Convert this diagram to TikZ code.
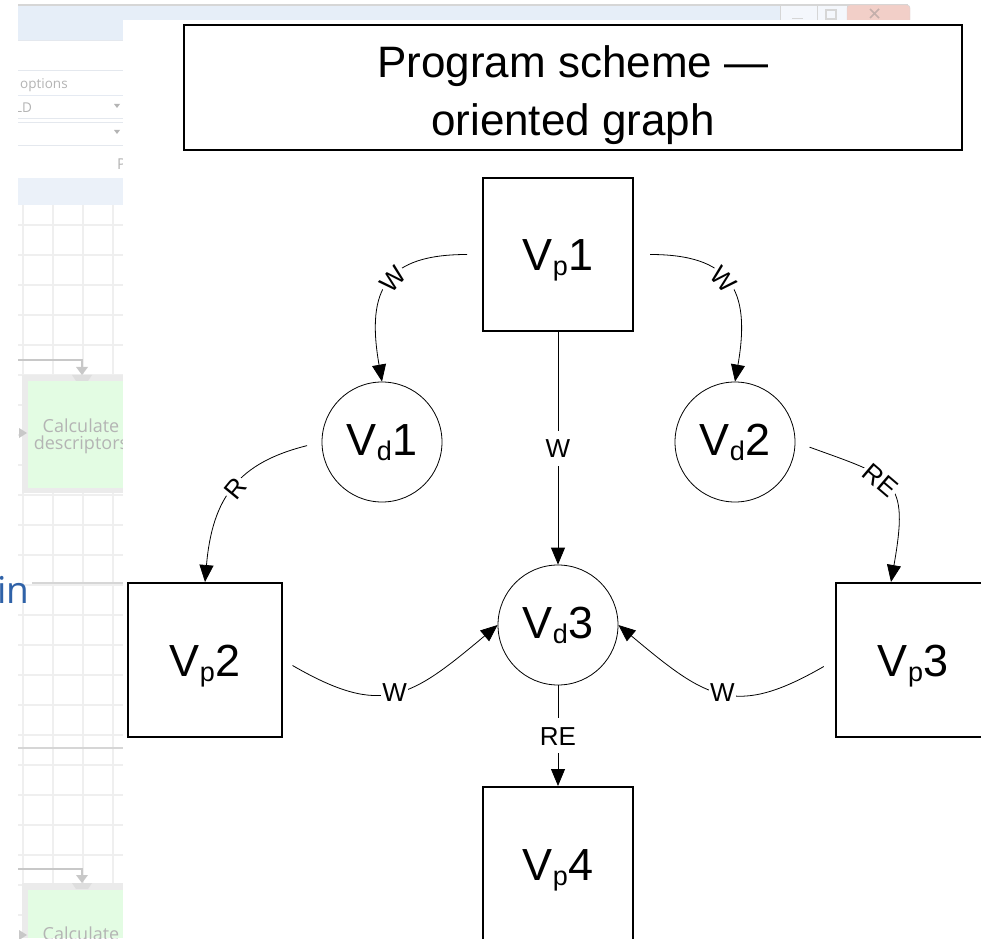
\documentclass[tikz,border=0pt]{standalone}
\usepackage{fontspec}
\setmainfont{Liberation Sans}
\newfontfamily\uifont{Open Sans}
\usetikzlibrary{arrows.meta}

\definecolor{frameline}{HTML}{D6D6D6}
\definecolor{titleband}{HTML}{E6EEF8}
\definecolor{rowline}{HTML}{E4E8EE}
\definecolor{gridline}{HTML}{EFEFEF}
\definecolor{uitext}{HTML}{B4B4B4}
\definecolor{uiarrow}{HTML}{C8C8C8}
\definecolor{blockfill}{HTML}{E3FCE3}
\definecolor{blockrim}{HTML}{EBEBEB}
\definecolor{linkblue}{HTML}{2F62A8}
\definecolor{closered}{HTML}{F2CFC8}

% vertex name with a lowered small index letter
\newcommand\vsub[2]{V\raisebox{-5pt}{\fontsize{27}{27}\selectfont #1}#2}

\begin{document}
\begin{tikzpicture}[x=1pt,y=1pt,
  procbox/.style={draw, line width=2pt, minimum width=150pt, minimum height=153pt,
    inner sep=0pt, font=\fontsize{45}{45}\selectfont, text height=32pt, text depth=0pt},
  datacirc/.style={draw, circle, line width=0.8pt, minimum size=120pt, inner sep=0pt,
    font=\fontsize{45}{45}\selectfont, text height=27pt, text depth=0pt},
  link/.style={line width=0.8pt, -{Triangle[length=17pt,width=14pt]}},
  tag/.style={fill=white, font=\fontsize{26}{26}\selectfont, inner xsep=2pt,
    inner ysep=8pt, text height=19pt, text depth=0pt},
  uitxt/.style={text=uitext, inner sep=0pt},
  uiarr/.style={draw=uiarrow, line width=2pt},
]
\useasboundingbox (0,0) rectangle (981,938);
\clip (0,0) rectangle (981,938);
\fill[white] (0,0) rectangle (981,938);

% ---------- application window behind the diagram ----------
\fill[titleband] (18,898) rectangle (910,932);
\draw[frameline, line width=1.5pt] (18,933) -- (908,933);
% window buttons
\draw[frameline, fill=white!55!titleband] (780,912) rectangle (817,933);
\draw[frameline, fill=white!55!titleband] (817,912) rectangle (847,933);
\draw[frameline, fill=closered, rounded corners=3pt] (847,912) rectangle (910,933);
\draw[frameline] (792,920) -- (803,920);
\draw[frameline, line width=1.2pt] (826,919) rectangle (836,928);
\draw[closered!60!gray, line width=1.5pt] (870,920) -- (879,929) (870,929) -- (879,920);

% option rows
\draw[rowline] (18,898) -- (123,898);
\draw[rowline] (18,868) -- (123,868);
\node[uitxt, anchor=west, font=\uifont\fontsize{13.5}{13.5}\selectfont] (optlabel) at (20,853) {options};
\draw[rowline!60!titleband] (18,843) -- (123,843);
\node[uitxt, anchor=west, font=\uifont\fontsize{13.5}{13.5}\selectfont] (ldlabel) at (15,830) {LD};
\fill[uitext] (114,834) -- (120,834) -- (117,830) -- cycle;
\draw[rowline] (18,820) -- (123,820);
\draw[rowline] (18,816) -- (123,816);
\fill[uitext] (114,808) -- (120,808) -- (117,804) -- cycle;
\draw[rowline] (18,793) -- (123,793);
\node[uitxt, anchor=west, font=\uifont\fontsize{15}{15}\selectfont] (plabel) at (117,774) {P};
\draw[rowline] (18,760) -- (123,760);
\fill[titleband!80!white] (18,733) rectangle (123,760);

% canvas grid
\foreach \gx in {23,53,83,113}
  \draw[gridline, line width=1.2pt] (\gx,0) -- (\gx,733);
\foreach \k in {0,...,23}
  \draw[gridline, line width=1.2pt] (18,{713-30*\k}) -- (123,{713-30*\k});

% first flowchart block
\fill[blockrim] (22,445) rectangle (123,563);
\fill[blockfill] (28,450) rectangle (123,557);
\fill[uiarrow!60!white] (72,563) -- (92,563) -- (88,557) -- (76,557) -- cycle;
\draw[uiarr] (18,578) -- (82,578) -- (82,570);
\fill[uiarrow] (76,571) -- (88,571) -- (82,563) -- cycle;
\fill[uiarrow] (19,510) -- (27,505) -- (19,500) -- cycle;
\node[uitxt, anchor=base, font=\uifont\fontsize{18}{18}\selectfont] (calcA) at (81,506) {Calculate};
\node[uitxt, anchor=base, font=\uifont\fontsize{18}{18}\selectfont] (descA) at (81,489) {descriptors};

% separators
\draw[frameline, line width=2pt] (32,355) -- (123,355);
\draw[frameline, line width=2pt] (18,190) -- (123,190);

% second flowchart block
\fill[blockrim] (22,0) rectangle (123,55);
\fill[blockfill] (28,0) rectangle (123,48);
\fill[uiarrow!60!white] (72,55) -- (92,55) -- (88,49) -- (76,49) -- cycle;
\draw[uiarr] (18,69) -- (82,69) -- (82,62);
\fill[uiarrow] (76,63) -- (88,63) -- (82,55) -- cycle;
\fill[uiarrow] (19,8) -- (27,3) -- (19,-2) -- cycle;
\node[uitxt, anchor=base, font=\uifont\fontsize{18}{18}\selectfont] (calcB) at (81,-2) {Calculate};

% area left of the window
\fill[white] (0,0) rectangle (18,932);
\node[anchor=base west, inner sep=0pt, text=linkblue, font=\uifont\fontsize{37}{37}\selectfont] (inlabel) at (-3,335) {in};

% ---------- diagram sheet ----------
\fill[white] (123,0) rectangle (981,918);

\node[draw, line width=2pt, minimum width=778pt, minimum height=125pt, inner sep=0pt,
  align=center, font=\fontsize{44}{58}\selectfont, text height=97pt, text depth=0pt]
  (title) at (573,850.5) {Program scheme —\\oriented graph};

\node[procbox] (p1) at (558,683.5) {\vsub{p}{1}};
\node[procbox, minimum width=154pt, minimum height=154pt] (p2) at (205,278) {\vsub{p}{2}};
\node[procbox, minimum width=154pt, minimum height=154pt] (p3) at (913,278) {\vsub{p}{3}};
\node[procbox, minimum height=154pt] (p4) at (558,74) {\vsub{p}{4}};
\node[datacirc] (d1) at (382,496) {\vsub{d}{1}};
\node[datacirc] (d2) at (735,496) {\vsub{d}{2}};
\node[datacirc] (d3) at (558,313) {\vsub{d}{3}};

\draw[link, shorten <=15pt] (p1.west) to[out=180, in=100, looseness=1.5]
  node[tag, sloped, pos=0.47] {W} (d1.north);
\draw[link, shorten <=16pt] (p1.east) to[out=0, in=80, looseness=1.5]
  node[tag, sloped, pos=0.47] {W} (d2.north);
\draw[link] (p1.south) -- node[tag] {W} (d3.north);
\draw[link, shorten <=15pt] (d1.west) to[out=194, in=85, looseness=1.2]
  node[tag, sloped, pos=0.5] {R} (p2.north);
\draw[link, shorten <=15pt] (d2.east) to[out=-20, in=80, looseness=1.6]
  node[tag, sloped, pos=0.43] {RE} ([xshift=-22pt]p3.north);
\draw[link, shorten <=11pt] (p2.east) to[out=-30, in=-140, looseness=1.35]
  node[tag, inner xsep=1pt, pos=0.5] {W} (d3.west);
\draw[link, shorten <=13pt] (p3.west) to[out=210, in=-40, looseness=1.35]
  node[tag, inner xsep=1pt, pos=0.5] {W} (d3.east);
\draw[link] (d3.south) -- node[tag] {RE} (p4.north);
\end{tikzpicture}
\end{document}
